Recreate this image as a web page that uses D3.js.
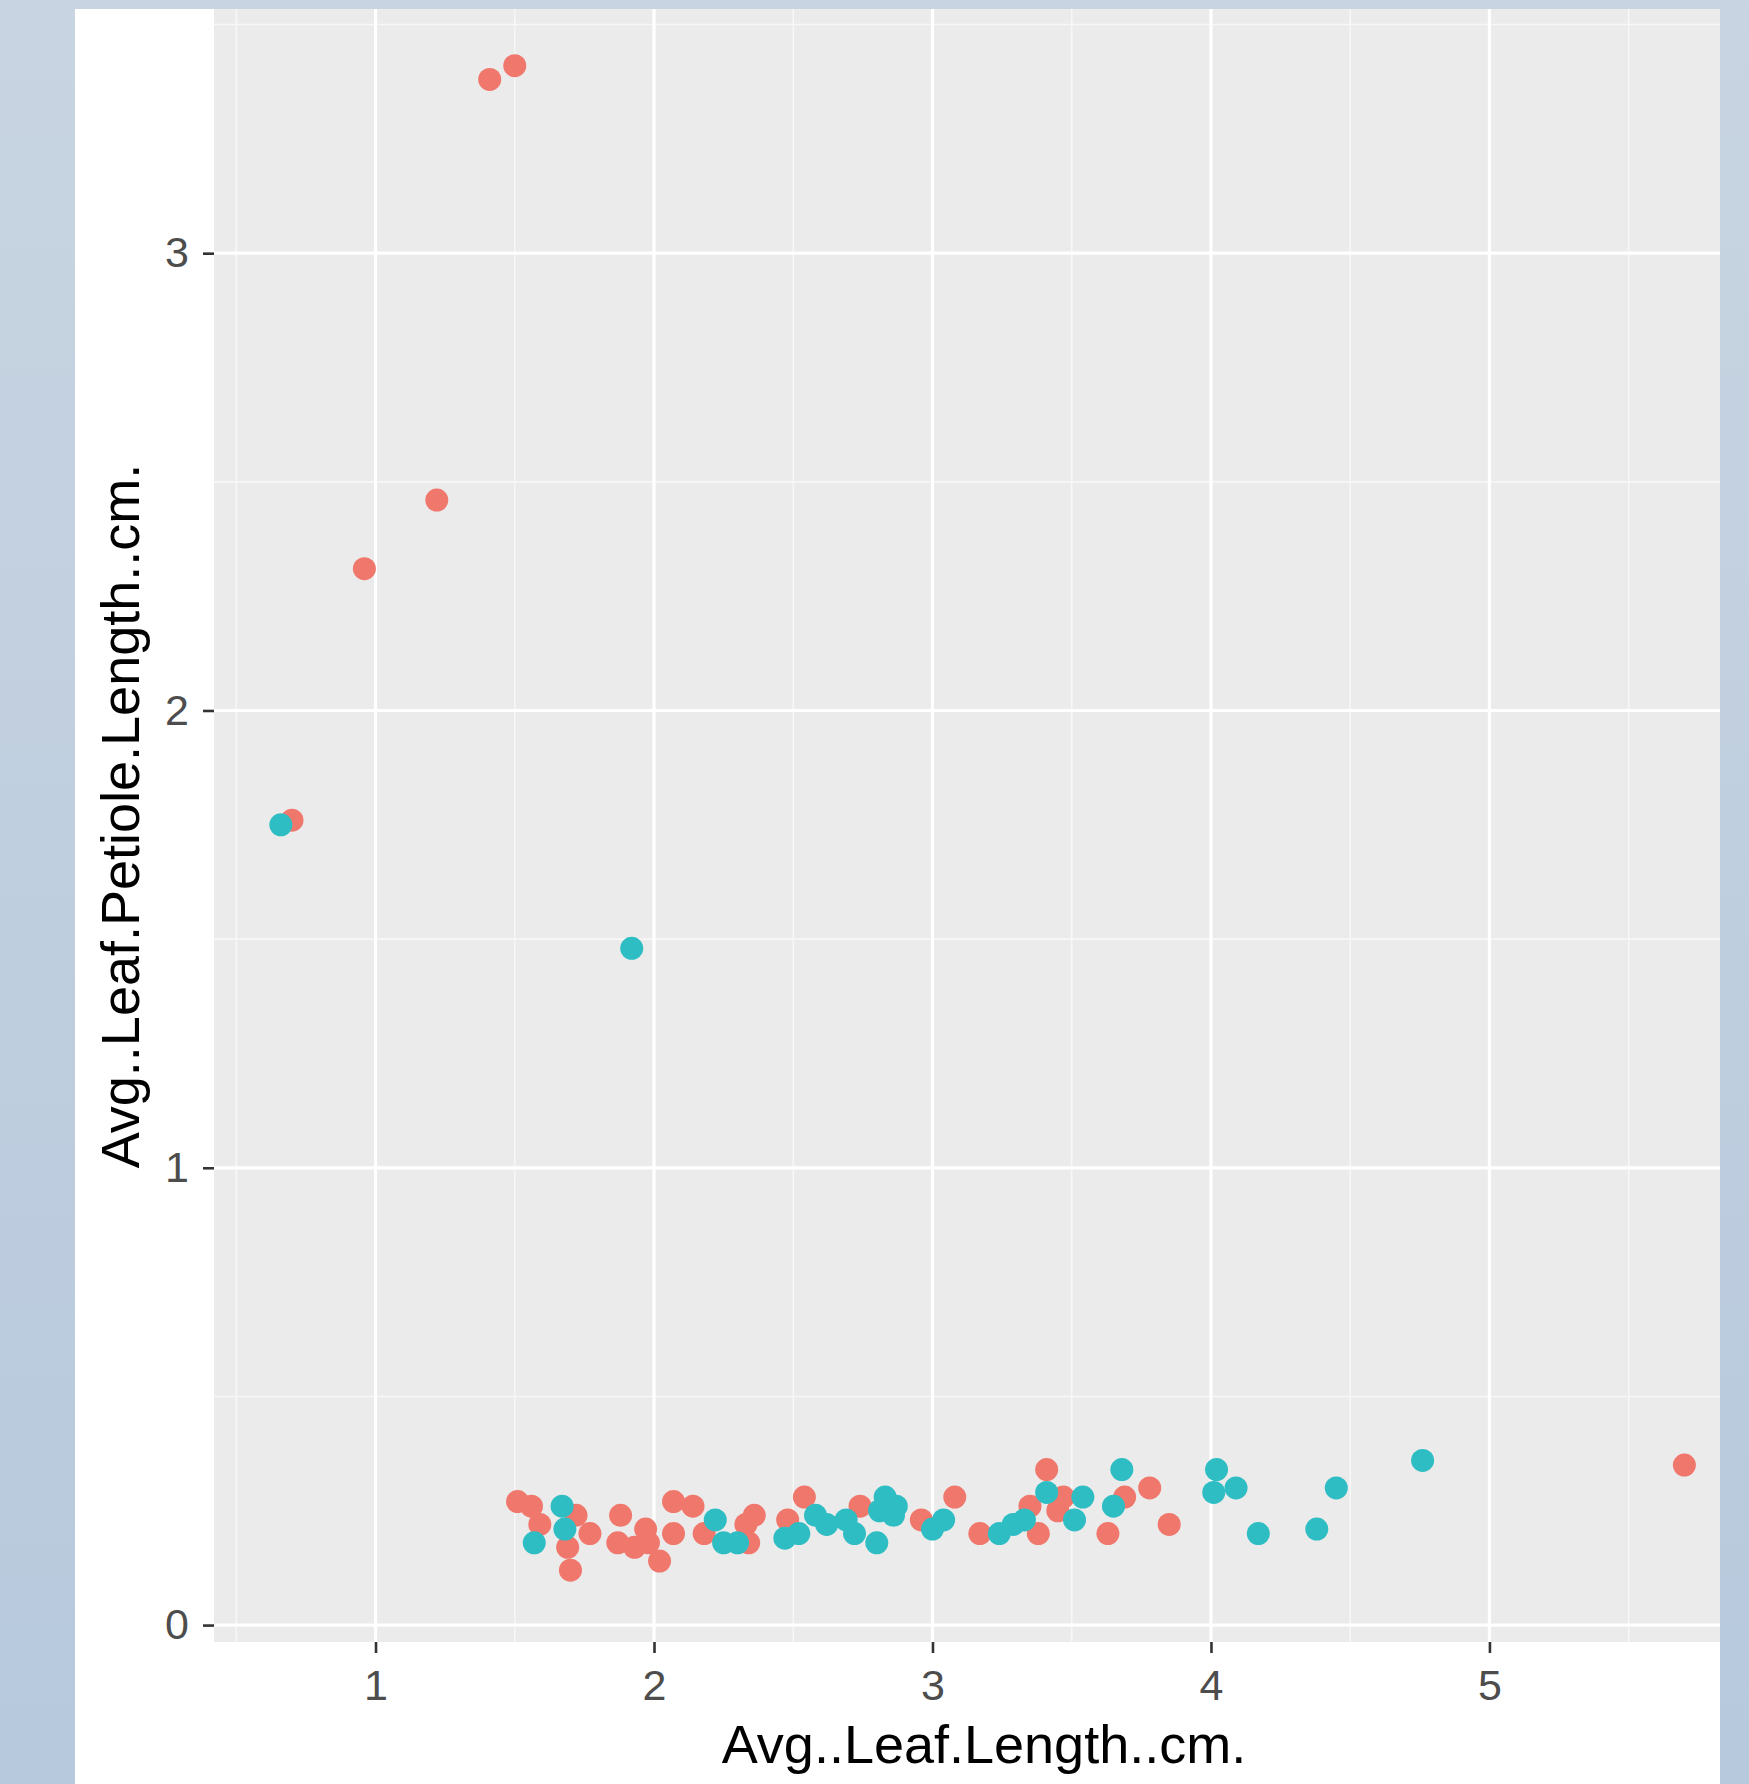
<!DOCTYPE html>
<html>
<head>
<meta charset="utf-8">
<title>Avg..Leaf.Petiole.Length..cm. vs Avg..Leaf.Length..cm.</title>
<script src="https://cdn.jsdelivr.net/npm/d3@7"></script>
<style>
body { margin: 0; }
svg { display: block; font-family: "Liberation Sans", Arial, Helvetica, sans-serif; }
</style>
</head>
<body>
<script>
// tick values
var xTicks = [1, 2, 3, 4, 5];
var yTicks = [0, 1, 2, 3];
var xMinor = [0.5, 1.5, 2.5, 3.5, 4.5, 5.5];
var yMinor = [0.5, 1.5, 2.5, 3.5];

// red (salmon) group
var redX = [1.41, 1.50, 1.22, 0.96, 0.70, 5.70, 1.51, 1.56, 1.59, 1.72, 1.77, 1.69, 1.70, 1.88,
            1.87, 1.93, 1.97, 1.98, 2.02, 2.07, 2.07, 2.14, 2.18, 2.36, 2.33, 2.34, 2.48, 2.54,
            2.74, 2.96, 3.08, 3.17, 3.35, 3.38, 3.41, 3.47, 3.45, 3.63, 3.69, 3.78, 3.85];
var redY = [3.38, 3.41, 2.46, 2.31, 1.76, 0.35, 0.27, 0.26, 0.22, 0.24, 0.20, 0.17, 0.12, 0.24,
            0.18, 0.17, 0.21, 0.18, 0.14, 0.20, 0.27, 0.26, 0.20, 0.24, 0.22, 0.18, 0.23, 0.28,
            0.26, 0.23, 0.28, 0.20, 0.26, 0.20, 0.34, 0.28, 0.25, 0.20, 0.28, 0.30, 0.22];

// teal group
var tealX = [0.66, 1.92, 4.76, 4.45, 4.38, 1.57, 1.67, 1.68, 2.22, 2.25, 2.30, 2.47, 2.52, 2.58,
             2.62, 2.69, 2.72, 2.80, 2.83, 2.87, 2.81, 2.86, 3.00, 3.04, 3.24, 3.29, 3.33, 3.41,
             3.51, 3.54, 3.65, 3.68, 4.01, 4.02, 4.09, 4.17];
var tealY = [1.75, 1.48, 0.36, 0.30, 0.21, 0.18, 0.26, 0.21, 0.23, 0.18, 0.18, 0.19, 0.20, 0.24,
             0.22, 0.23, 0.20, 0.18, 0.28, 0.26, 0.25, 0.24, 0.21, 0.23, 0.20, 0.22, 0.23, 0.29,
             0.23, 0.28, 0.26, 0.34, 0.29, 0.34, 0.30, 0.20];

var W = 1749, H = 1784;
var left = 214, bottom = 1642, clipRight = 1720, clipTop = 9;

var x = d3.scaleLinear().domain([0.42, 5.95]).range([left, 1754]);
var y = d3.scaleLinear().domain([-0.037, 3.6]).range([bottom, -21.2]);

var svg = d3.select("body").append("svg")
    .attr("width", W)
    .attr("height", H);

// screenshot frame
var grad = svg.append("defs").append("linearGradient")
    .attr("id", "frame").attr("x1", 0).attr("y1", 0).attr("x2", 0).attr("y2", 1);
grad.append("stop").attr("offset", "0%").attr("stop-color", "#c8d4e1");
grad.append("stop").attr("offset", "100%").attr("stop-color", "#b7c9dd");

svg.select("defs").append("clipPath").attr("id", "panelClip")
  .append("rect")
    .attr("x", left).attr("y", clipTop)
    .attr("width", clipRight - left).attr("height", bottom - clipTop);

svg.append("rect").attr("width", W).attr("height", H).attr("fill", "url(#frame)");
svg.append("rect")
    .attr("x", 75).attr("y", clipTop)
    .attr("width", clipRight - 75).attr("height", H - clipTop)
    .attr("fill", "#ffffff");

// panel
var panel = svg.append("g").attr("clip-path", "url(#panelClip)");
panel.append("rect")
    .attr("x", left).attr("y", clipTop)
    .attr("width", clipRight - left).attr("height", bottom - clipTop)
    .attr("fill", "#ebebeb");

panel.selectAll("line.vminor").data(xMinor).enter().append("line")
    .attr("x1", x).attr("x2", x).attr("y1", clipTop).attr("y2", bottom)
    .attr("stroke", "#f7f7f7").attr("stroke-width", 1.6);
panel.selectAll("line.hminor").data(yMinor).enter().append("line")
    .attr("y1", y).attr("y2", y).attr("x1", left).attr("x2", clipRight)
    .attr("stroke", "#f7f7f7").attr("stroke-width", 1.6);
panel.selectAll("line.vmajor").data(xTicks).enter().append("line")
    .attr("x1", x).attr("x2", x).attr("y1", clipTop).attr("y2", bottom)
    .attr("stroke", "#ffffff").attr("stroke-width", 3.2);
panel.selectAll("line.hmajor").data(yTicks).enter().append("line")
    .attr("y1", y).attr("y2", y).attr("x1", left).attr("x2", clipRight)
    .attr("stroke", "#ffffff").attr("stroke-width", 3.2);

var r = 11.5;
panel.selectAll("circle.red").data(redX).enter().append("circle")
    .attr("cx", function(d) { return x(d); })
    .attr("cy", function(d, i) { return y(redY[i]); })
    .attr("r", r)
    .attr("fill", "#f0776b");
panel.selectAll("circle.teal").data(tealX).enter().append("circle")
    .attr("cx", function(d) { return x(d); })
    .attr("cy", function(d, i) { return y(tealY[i]); })
    .attr("r", r)
    .attr("fill", "#2fbdc4");

// axes
function styleAxis(g) {
  g.select(".domain").remove();
  g.attr("font-family", null).attr("font-size", null);
  g.selectAll(".tick line").attr("stroke", "#333333").attr("stroke-width", 2.6);
  g.selectAll(".tick text").attr("fill", "#4d4d4d").style("font-size", "43px");
}

svg.append("g")
    .attr("transform", "translate(0," + bottom + ")")
    .call(d3.axisBottom(x).tickValues(xTicks).tickSize(11).tickPadding(16).tickFormat(d3.format("d")))
    .call(styleAxis);

svg.append("g")
    .attr("transform", "translate(" + left + ",0)")
    .call(d3.axisLeft(y).tickValues(yTicks).tickSize(11).tickPadding(14).tickFormat(d3.format("d")))
    .call(styleAxis);

// titles
svg.append("text")
    .attr("x", (x.range()[0] + x.range()[1]) / 2)
    .attr("y", 1763)
    .attr("text-anchor", "middle")
    .style("font-size", "54px")
    .attr("fill", "#000000")
    .text("Avg..Leaf.Length..cm.");

svg.append("text")
    .attr("transform", "translate(139,816) rotate(-90)")
    .attr("text-anchor", "middle")
    .style("font-size", "54px")
    .attr("fill", "#000000")
    .text("Avg..Leaf.Petiole.Length..cm.");
</script>
</body>
</html>
